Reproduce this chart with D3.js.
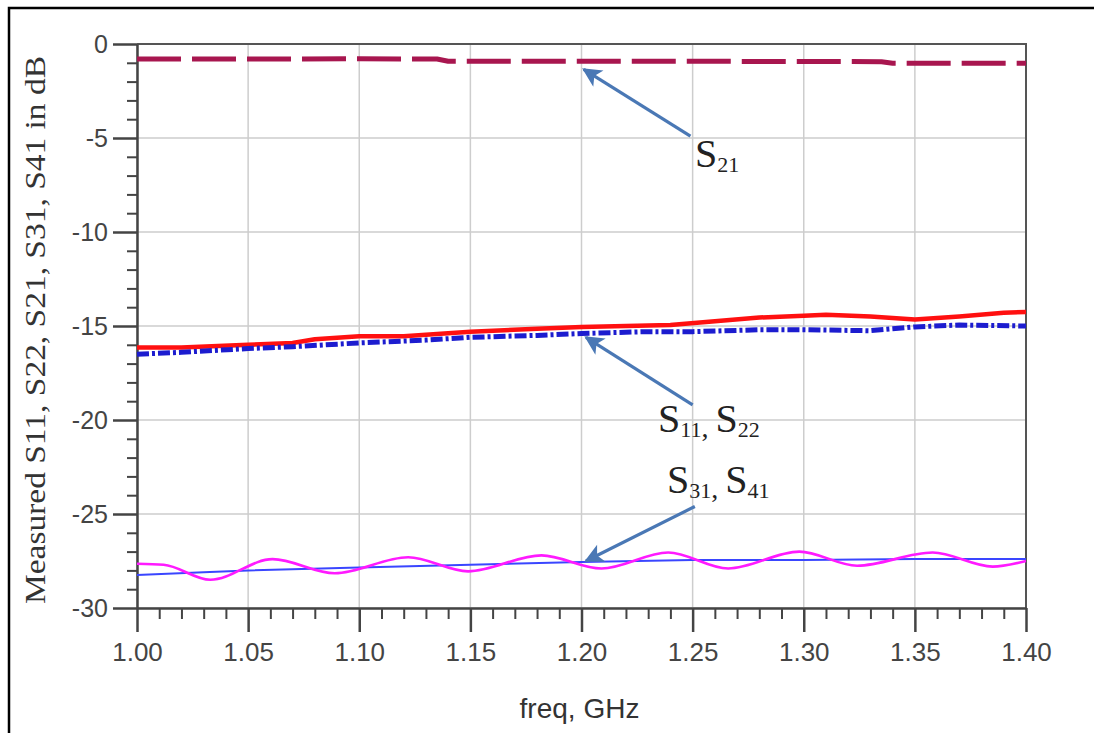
<!DOCTYPE html>
<html>
<head>
<meta charset="utf-8">
<script src="https://cdn.jsdelivr.net/npm/d3@7"></script>
<style>
  html, body { margin: 0; padding: 0; background: #fff; }
  svg { display: block; }
  .tick text { font-family: "Liberation Sans", Arial, sans-serif; fill: #444; }
</style>
</head>
<body>
<div id="chart"></div>
<script>
// Measured S-parameters
const xTicks = [1.00, 1.05, 1.10, 1.15, 1.20, 1.25, 1.30, 1.35, 1.40];
const yTicks = [0, -5, -10, -15, -20, -25, -30];

const s21Freq = [1.00, 1.05, 1.10, 1.135, 1.14, 1.20, 1.25, 1.30, 1.335, 1.34, 1.40];
const s21Db   = [-0.80, -0.80, -0.79, -0.80, -0.92, -0.92, -0.92, -0.93, -0.94, -1.02, -1.03];

const s11Freq = [1.00, 1.02, 1.05, 1.07, 1.08, 1.10, 1.12, 1.15, 1.18, 1.20, 1.22, 1.24, 1.26, 1.28, 1.30, 1.31, 1.33, 1.35, 1.37, 1.39, 1.40];
const s11Db   = [-16.15, -16.15, -16.0, -15.9, -15.7, -15.55, -15.55, -15.3, -15.15, -15.05, -15.0, -14.95, -14.75, -14.55, -14.45, -14.4, -14.5, -14.65, -14.5, -14.3, -14.25];

const s22Freq = [1.00, 1.02, 1.05, 1.07, 1.10, 1.13, 1.15, 1.18, 1.20, 1.23, 1.25, 1.28, 1.30, 1.33, 1.35, 1.37, 1.40];
const s22Db   = [-16.5, -16.4, -16.2, -16.1, -15.9, -15.75, -15.6, -15.5, -15.4, -15.3, -15.3, -15.2, -15.2, -15.25, -15.05, -14.95, -15.0];

const s31Freq = [1.000, 1.012, 1.033, 1.061, 1.089, 1.122, 1.149, 1.182, 1.209, 1.239, 1.266, 1.298, 1.324, 1.358, 1.385, 1.400];
const s31Db   = [-27.65, -27.7, -28.5, -27.4, -28.15, -27.3, -28.05, -27.2, -27.9, -27.05, -27.9, -27.0, -27.75, -27.05, -27.8, -27.5];

const s41Freq = [1.00, 1.03, 1.05, 1.10, 1.15, 1.20, 1.25, 1.30, 1.35, 1.40];
const s41Db   = [-28.25, -28.1, -28.0, -27.85, -27.7, -27.55, -27.45, -27.45, -27.4, -27.4];

const W = 1094, H = 733;
const plot = { left: 137, right: 1026, top: 44, bottom: 608 };

const svg = d3.select('#chart').append('svg')
    .attr('width', W)
    .attr('height', H);

// outer frame of the figure
svg.append('rect')
    .attr('x', 9).attr('y', 8)
    .attr('width', W + 20).attr('height', H + 20)
    .attr('fill', 'none')
    .attr('stroke', '#000')
    .attr('stroke-width', 2.5);

const x = d3.scaleLinear().domain([1.0, 1.4]).range([plot.left, plot.right]);
const y = d3.scaleLinear().domain([-30, 0]).range([plot.bottom, plot.top]);

// grid
const grid = svg.append('g');
grid.selectAll('.vg').data(xTicks).enter().append('line')
    .attr('x1', d => x(d)).attr('x2', d => x(d))
    .attr('y1', plot.top).attr('y2', plot.bottom)
    .attr('stroke', '#cdcdcd').attr('stroke-width', 1.5);
grid.selectAll('.hg').data(yTicks).enter().append('line')
    .attr('x1', plot.left).attr('x2', plot.right)
    .attr('y1', d => y(d)).attr('y2', d => y(d))
    .attr('stroke', '#cdcdcd').attr('stroke-width', 1.5);

// plot border (top + right)
svg.append('path')
    .attr('d', `M${plot.left},${plot.top}H${plot.right}V${plot.bottom}`)
    .attr('fill', 'none').attr('stroke', '#555').attr('stroke-width', 2);

// minor ticks
const xMinor = d3.range(1.0, 1.4001, 0.01).filter(v => Math.abs(v * 20 - Math.round(v * 20)) > 1e-6);
const yMinor = d3.range(-30, 0.001, 1).filter(v => v % 5 !== 0);

svg.append('g')
    .attr('transform', `translate(0,${plot.bottom})`)
    .call(d3.axisBottom(x).tickValues(xMinor).tickSize(11).tickFormat(''))
    .call(g => g.select('.domain').remove())
    .selectAll('line').attr('stroke', '#444').attr('stroke-width', 2);

svg.append('g')
    .attr('transform', `translate(${plot.left},0)`)
    .call(d3.axisLeft(y).tickValues(yMinor).tickSize(10).tickFormat(''))
    .call(g => g.select('.domain').remove())
    .selectAll('line').attr('stroke', '#444').attr('stroke-width', 2);

// major axes
const xAxis = svg.append('g')
    .attr('transform', `translate(0,${plot.bottom})`)
    .call(d3.axisBottom(x).tickValues(xTicks).tickSize(24).tickSizeOuter(0).tickPadding(11).tickFormat(d3.format('.2f')));
xAxis.select('.domain').attr('stroke', '#444').attr('stroke-width', 2.5);
xAxis.selectAll('line').attr('stroke', '#444').attr('stroke-width', 2.5);
xAxis.selectAll('text').style('font-size', '26px');

const yAxis = svg.append('g')
    .attr('transform', `translate(${plot.left},0)`)
    .call(d3.axisLeft(y).tickValues(yTicks).tickSize(24).tickSizeOuter(0).tickPadding(5).tickFormat(d => String(d)));
yAxis.select('.domain').attr('stroke', '#444').attr('stroke-width', 2.5);
yAxis.selectAll('line').attr('stroke', '#444').attr('stroke-width', 2.5);
yAxis.selectAll('text').style('font-size', '25px');

// series
const zip = (fs, vs) => fs.map((f, i) => ({ f, v: vs[i] }));
const line = d3.line().x(d => x(d.f)).y(d => y(d.v));
const smooth = d3.line().x(d => x(d.f)).y(d => y(d.v)).curve(d3.curveMonotoneX);

const series = [
    { data: zip(s41Freq, s41Db), color: '#3a46ff', width: 2, dash: null, gen: line },
    { data: zip(s31Freq, s31Db), color: '#ff1aff', width: 2.6, dash: null, gen: smooth },
    { data: zip(s11Freq, s11Db), color: '#ff1010', width: 4.5, dash: null, gen: line },
    { data: zip(s22Freq, s22Db), color: '#1c1ccf', width: 5, dash: '12,3,3,3', gen: line },
    { data: zip(s21Freq, s21Db), color: '#a8164f', width: 5, dash: '44,11', gen: line }
];

series.forEach(s => {
    svg.append('path')
        .datum(s.data)
        .attr('d', s.gen)
        .attr('fill', 'none')
        .attr('stroke', s.color)
        .attr('stroke-width', s.width)
        .attr('stroke-dasharray', s.dash)
        .attr('stroke-linejoin', 'round');
});

// annotation arrows
const defs = svg.append('defs');
defs.append('marker')
    .attr('id', 'arrow')
    .attr('viewBox', '0 0 10 10')
    .attr('refX', 9).attr('refY', 5)
    .attr('markerWidth', 6.5).attr('markerHeight', 6)
    .attr('markerUnits', 'strokeWidth')
    .attr('orient', 'auto')
    .append('path')
    .attr('d', 'M0,0L10,5L0,10L2.5,5Z')
    .attr('fill', '#4a78b5');

const arrows = [
    { from: [1.249, -4.9], to: [1.201, -1.35] },
    { from: [1.250, -19.2], to: [1.202, -15.6] },
    { from: [1.251, -24.6], to: [1.202, -27.5] }
];
arrows.forEach(a => {
    svg.append('line')
        .attr('x1', x(a.from[0])).attr('y1', y(a.from[1]))
        .attr('x2', x(a.to[0])).attr('y2', y(a.to[1]))
        .attr('stroke', '#4a78b5')
        .attr('stroke-width', 3.2)
        .attr('marker-end', 'url(#arrow)');
});

// S-parameter labels with subscripts
function sLabel(px, py, parts) {
    const t = svg.append('text')
        .attr('x', px).attr('y', py)
        .style('font-family', '"Liberation Serif", "Times New Roman", serif')
        .style('fill', '#222');
    parts.forEach(p => {
        t.append('tspan').text('S').style('font-size', '40px').attr('dy', p.first ? 0 : -5);
        t.append('tspan').text(p.sub).style('font-size', '22px').attr('dy', 5);
        if (p.sep) t.append('tspan').text(p.sep).style('font-size', '28px');
    });
}
sLabel(695, 167, [{ sub: '21', first: true }]);
sLabel(658, 432, [{ sub: '11', first: true, sep: ', ' }, { sub: '22' }]);
sLabel(667, 493, [{ sub: '31', first: true, sep: ', ' }, { sub: '41' }]);

// axis titles
svg.append('text')
    .attr('x', (plot.left + plot.right) / 2 - 2)
    .attr('y', 718)
    .attr('text-anchor', 'middle')
    .style('font-family', '"Liberation Sans", Arial, sans-serif')
    .style('font-size', '28px')
    .style('fill', '#333')
    .text('freq, GHz');

svg.append('text')
    .attr('transform', 'translate(45,330) rotate(-90)')
    .attr('text-anchor', 'middle')
    .attr('textLength', 548)
    .attr('lengthAdjust', 'spacingAndGlyphs')
    .style('font-family', '"Liberation Serif", "Times New Roman", serif')
    .style('font-size', '29px')
    .style('fill', '#333')
    .text('Measured S11, S22, S21, S31, S41 in dB');
</script>
</body>
</html>
